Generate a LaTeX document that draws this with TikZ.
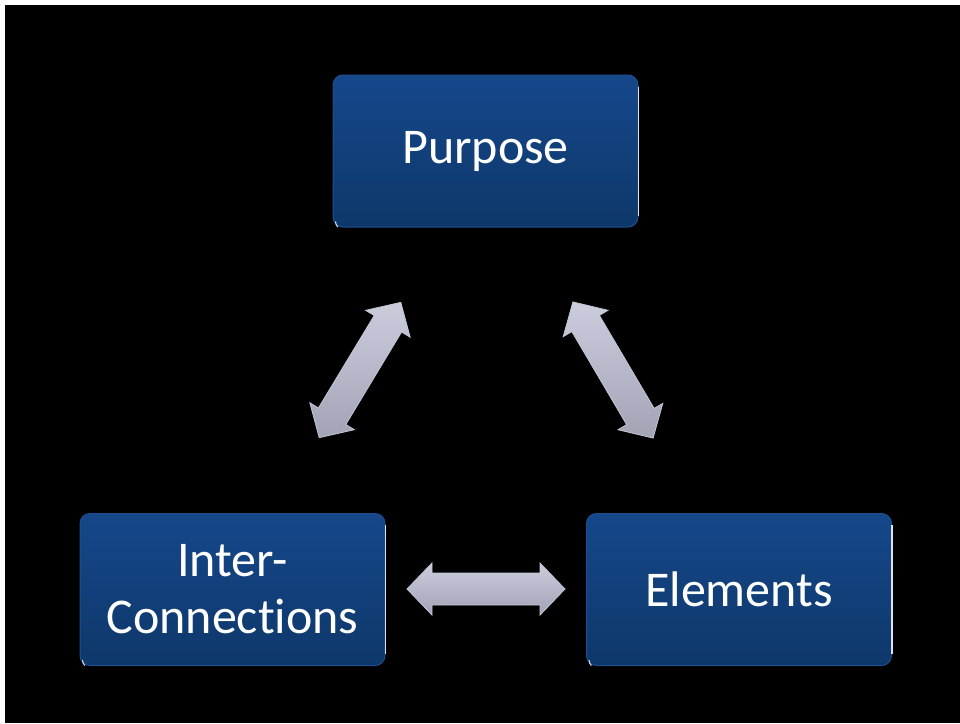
\documentclass[tikz,border=0pt]{standalone}
\usepackage{fontspec}
\setmainfont{Carlito}[Ligatures={NoCommon,NoContextual}]
\begin{document}
\begin{tikzpicture}[x=1pt,y=-1pt,
  box/.style={rounded corners=10pt, minimum width=305pt, minimum height=152pt,
    top color=boxtop, bottom color=boxbot, draw=boxedge, line width=1pt,
    text=white, align=center, font=\fontsize{50}{57}\selectfont, inner sep=0pt},
  hilite/.style={draw=white!85!boxtop, line width=1.2pt},
  dblarrow/.pic={
    \path[top color=arrtop, bottom color=arrbot, draw=arredge, line width=0.8pt]
      (-79,0) -- (-54,-26) -- (-54,-16) -- (54,-16) -- (54,-26) -- (79,0)
      -- (54,26) -- (54,16) -- (-54,16) -- (-54,26) -- cycle;
  }]
\definecolor{boxtop}{HTML}{15478A}
\definecolor{boxbot}{HTML}{0E386A}
\definecolor{boxedge}{HTML}{1D4F90}
\definecolor{arrtop}{HTML}{CBCCDC}
\definecolor{arrbot}{HTML}{A2A4B6}
\definecolor{arredge}{HTML}{C4C5D4}
\useasboundingbox (0,0) rectangle (960,723);
\fill[white] (0,0) rectangle (960,723);
\fill[black] (5,5) rectangle (960,723);
\node[box] (purpose) at (485.5,151) {Purpose};
\node[box] (inter) at (232.5,589.5) {Inter-\\Connec\kern0pt tions};
\node[box] (elements) at (739,589.5) {Elements};
\foreach \n in {purpose,inter,elements}{
  \draw[hilite] ([yshift=-12pt]\n.north east) -- ([yshift=12pt]\n.south east);
  \draw[hilite, line width=1pt] ([xshift=3pt,yshift=6pt]\n.south west) arc[start angle=180,end angle=225,radius=8pt];
}
\coordinate (a1) at (360,370);
\coordinate (a2) at (613,370);
\coordinate (a3) at (486,589);
\pic[rotate=58.9] at (a1) {dblarrow};
\pic[rotate=-59.5] at (a2) {dblarrow};
\pic at (a3) {dblarrow};
\end{tikzpicture}
\end{document}
